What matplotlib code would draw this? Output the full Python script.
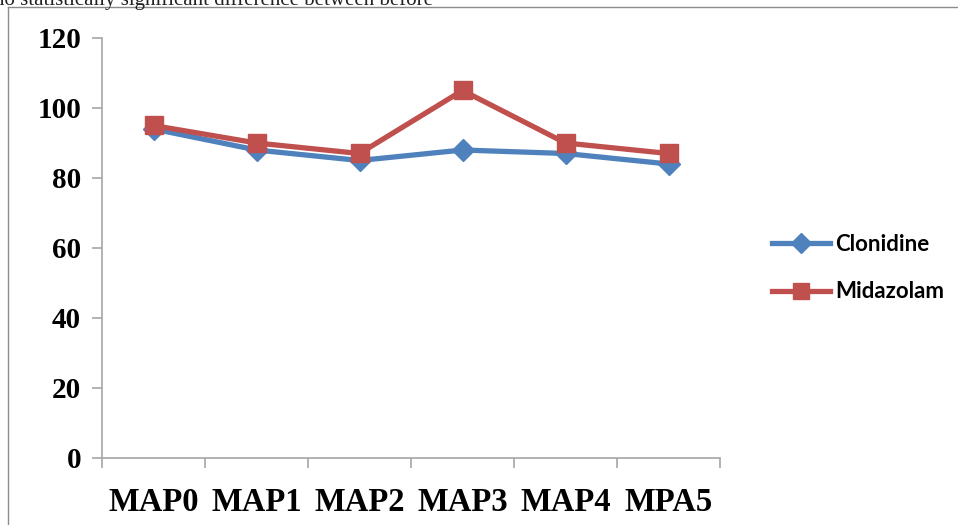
import matplotlib.pyplot as plt
from matplotlib.lines import Line2D

categories = ['MAP0', 'MAP1', 'MAP2', 'MAP3', 'MAP4', 'MPA5']
clonidine = [94, 88, 85, 88, 87, 84]
midazolam = [95, 90, 87, 105, 90, 87]
y_ticks = [0, 20, 40, 60, 80, 100, 120]

blue = '#4F81BD'
red = '#C0504D'
grey = '#A6A6A6'

fig = plt.figure(figsize=(9.58, 5.25), dpi=100)

# clipped caption line of the scanned page and the frame around the chart
fig.text(-0.006, 1 - 5 / 525, 'no statistically significant difference between before',
         family='Liberation Serif', fontsize=15, va='baseline', ha='left', color='#222222')
fig.add_artist(Line2D([8 / 958, 8 / 958], [0, 1 - 7 / 525], color='#8C8C8C', lw=1))
fig.add_artist(Line2D([8 / 958, 1], [1 - 7 / 525, 1 - 7 / 525], color='#8C8C8C', lw=1))

ax = fig.add_axes([102 / 958, 1 - 458 / 525, 618 / 958, 420 / 525])
x = range(len(categories))
ax.plot(x, clonidine, color=blue, lw=3.8, marker='D', ms=11, label='Clonidine')
ax.plot(x, midazolam, color=red, lw=3.8, marker='s', ms=12.5, label='Midazolam')

ax.set_xlim(-0.5, len(categories) - 0.5)
ax.set_ylim(0, 120)
ax.set_yticks(y_ticks)
ax.set_yticklabels([str(v) for v in y_ticks], family='Liberation Serif',
                   fontweight='bold', fontsize=21)
ax.set_xticks([i - 0.5 for i in range(len(categories) + 1)], minor=False)
ax.set_xticklabels([])
ax.set_xticks(list(x), minor=True)
ax.set_xticklabels(categories, minor=True, family='Liberation Serif',
                   fontweight='bold', fontsize=23.5)
ax.tick_params(axis='x', which='minor', length=0, pad=21)
ax.tick_params(axis='x', which='major', length=7, color=grey, width=1.2)
ax.tick_params(axis='y', length=7, color=grey, width=1.2, pad=8)

for side in ['top', 'right']:
    ax.spines[side].set_visible(False)
for side in ['left', 'bottom']:
    ax.spines[side].set_color(grey)
    ax.spines[side].set_linewidth(1.2)

leg = fig.legend(loc='center left', bbox_to_anchor=(752 / 958, 1 - 268 / 525),
                 frameon=False, handlelength=2.6, handletextpad=0.25, labelspacing=1.2,
                 markerscale=0.9,
                 prop={'family': 'Lato', 'weight': 'bold', 'size': 16})
for t in leg.get_texts():
    t.set_color('black')

fig.savefig('out.png', dpi=100)
